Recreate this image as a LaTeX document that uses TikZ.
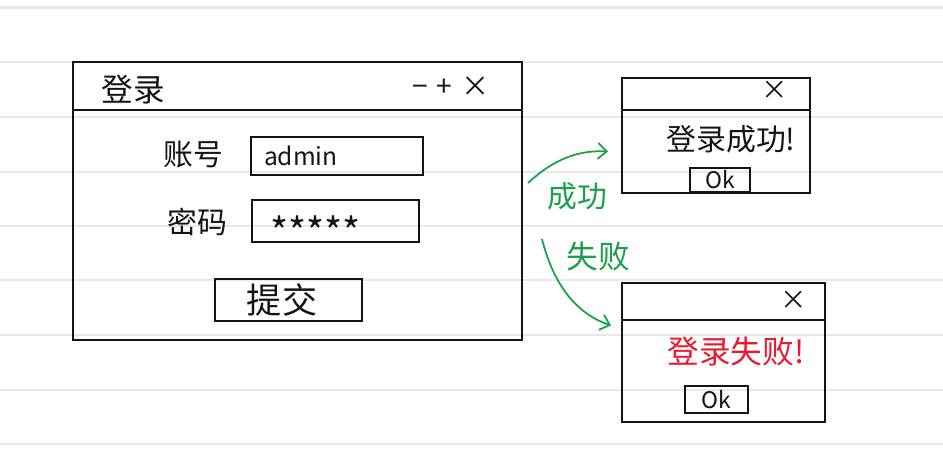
\documentclass[tikz,border=0pt]{standalone}
\usepackage{fontspec}
\setmainfont{Noto Sans CJK SC}
\usetikzlibrary{fit,calc,arrows.meta}
\definecolor{penblack}{RGB}{20,20,20}
\definecolor{pengreen}{RGB}{25,160,75}
\definecolor{penred}{RGB}{235,25,45}
\definecolor{ruleline}{RGB}{232,232,232}
\tikzset{
  win/.style={
    draw=penblack,
    line width=1.1pt,
    inner sep=0pt
  },
  field/.style={
    draw=penblack,
    line width=1pt,
    inner sep=0pt
  },
  hand/.style={
    text=penblack,
    inner sep=1pt,
    font=\fontsize{16}{18}\selectfont
  },
  flow/.style={
    draw=pengreen,
    line width=1pt,
    -{Straight Barb[length=5pt,width=9pt]}
  },
  ruled/.style={
    draw=ruleline,
    line width=1.2pt
  },
}

\begin{document}
\begin{tikzpicture}[x=0.02cm, y=-0.02cm]
\useasboundingbox (0,0) rectangle (943,464);
\foreach \y in {7.5,62,117,172,226,280,335,390,444}
  \draw[ruled] (0,\y) -- (943,\y);

% login window
\node[win, fit={(73,62) (522,340)}] (login) {};
\draw[win] (login.west |- 0,110) -- (login.east |- 0,110);
\node[hand, font=\fontsize{18}{20}\selectfont] (title) at (133,90) {登录};
\node[hand, font=\fontsize{16}{18}\selectfont] (ctrl) at (451,87) {−\hspace{5pt}+\hspace{5pt}×};

\node[hand, font=\fontsize{17}{19}\selectfont] (user label) at (193,155) {账号};
\node[field, fit={(251,137) (423,175)}] (user) {};
\node[hand, anchor=west, font=\fontsize{14}{16}\selectfont] (user text) at (262,156) {admin};

\node[hand, font=\fontsize{17}{19}\selectfont] (pass label) at (197,222) {密码};
\node[field, fit={(252,200) (419,242)}] (pass) {};
\node[hand, anchor=west, font=\fontsize{22}{24}\selectfont] (pass text) at (268,231) {*****};

\node[field, fit={(215,279) (362,321)}] (submit) {};
\node[hand, font=\fontsize{20}{22}\selectfont] (submit text) at (282,300) {提交};

% success dialog
\node[win, fit={(622,78) (810,193)}] (ok win) {};
\draw[win] (ok win.west |- 0,110) -- (ok win.east |- 0,110);
\node[hand, font=\fontsize{15}{17}\selectfont] (ok close) at (775,90) {×};
\node[hand, font=\fontsize{17}{19}\selectfont] (ok msg) at (731,139) {登录成功!};
\node[field, fit={(690,168) (750,192)}] (ok btn) {};
\node[hand, font=\fontsize{13}{15}\selectfont] (ok btn text) at (ok btn.center) {Ok};

% failure dialog
\node[win, fit={(622,283) (825,422)}] (fail win) {};
\draw[win] (fail win.west |- 0,320) -- (fail win.east |- 0,320);
\node[hand, font=\fontsize{15}{17}\selectfont] (fail close) at (794,300) {×};
\node[hand, text=penred, font=\fontsize{18}{20}\selectfont] (fail msg) at (736,352) {登录失败!};
\node[field, fit={(685,386) (748,413)}] (fail btn) {};
\node[hand, font=\fontsize{13}{15}\selectfont] (fail btn text) at (fail btn.center) {Ok};

% outcomes
\draw[flow] ($(login.east)+(5,-18)$) .. controls (555,158) and (580,150) .. ($(ok win.west)+(-13,16)$);
\node[hand, text=pengreen, font=\fontsize{17}{19}\selectfont] (ok tag) at (577,196) {成功};
\draw[flow] ($(login.east)+(19,38)$) .. controls (555,290) and (580,315) .. ($(fail win.west)+(-10,-27)$);
\node[hand, text=pengreen, font=\fontsize{18}{20}\selectfont] (fail tag) at (598,256) {失败};
\end{tikzpicture}
\end{document}
